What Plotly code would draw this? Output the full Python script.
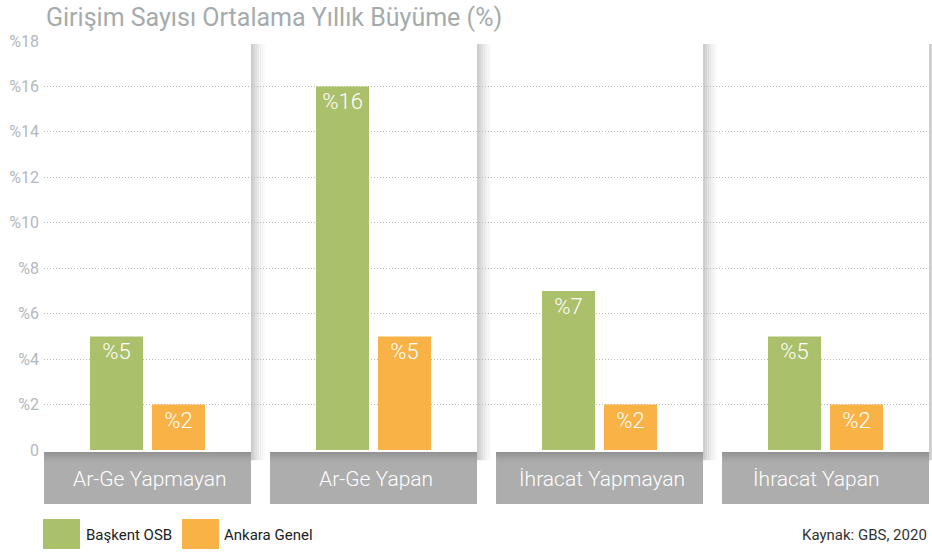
import plotly.graph_objects as go

categories = ["Ar-Ge Yapmayan", "Ar-Ge Yapan", "İhracat Yapmayan", "İhracat Yapan"]
baskent_osb = [5, 16, 7, 5]
ankara_genel = [2, 5, 2, 2]
series_names = ["Başkent OSB", "Ankara Genel"]
series_colors = ["#abc06a", "#f8b246"]
y_ticks = [0, 2, 4, 6, 8, 10, 12, 14, 16, 18]
y_tick_labels = ["0", "%2", "%4", "%6", "%8", "%10", "%12", "%14", "%16", "%18"]
title_text = "Girişim Sayısı Ortalama Yıllık Büyüme (%)"
source_text = "Kaynak: GBS, 2020"

FONT = "Roboto"
xpos = list(range(len(categories)))

fig = go.Figure()
for name, vals, col in zip(series_names, [baskent_osb, ankara_genel], series_colors):
    fig.add_trace(go.Bar(
        x=xpos, y=vals, name=name, marker=dict(color=col, line=dict(width=0)),
        text=["%" + str(v) for v in vals], textposition="inside",
        insidetextanchor="end", textangle=0, constraintext="none",
        textfont=dict(family=FONT, size=22, color="white", weight=300),
        cliponaxis=False, showlegend=False, hoverinfo="skip",
    ))

PX = 1 / 226.0  # data units per pixel on x
half = 103.5 * PX
shapes = []
annotations = []

for i, cat in enumerate(categories):
    # panel shadow at right edge
    alphas = [0.20, 0.16, 0.12, 0.09, 0.06, 0.04, 0.02]
    for k, a in enumerate(alphas):
        shapes.append(dict(type="rect", xref="x", yref="paper",
                           x0=i + half + 2 * k * PX, x1=i + half + 2 * (k + 1) * PX,
                           y0=-0.025, y1=0.9927, fillcolor="rgba(0,0,0,%.3f)" % a,
                           line=dict(width=0), layer="below"))
    # gray category box
    shapes.append(dict(type="rect", xref="x", yref="paper",
                       x0=i - half, x1=i + half, y0=-0.132, y1=-0.0049,
                       fillcolor="#adadad", line=dict(width=0), layer="above"))
    for k, a in enumerate([0.14, 0.10, 0.07, 0.04, 0.02]):
        y1 = -0.0049 - k * 2 / 409.0
        shapes.append(dict(type="rect", xref="x", yref="paper",
                           x0=i - half, x1=i + half, y0=y1 - 2 / 409.0, y1=y1,
                           fillcolor="rgba(0,0,0,%.3f)" % a, line=dict(width=0), layer="above"))
    annotations.append(dict(x=i, y=-0.07, xref="x", yref="paper", text=cat,
                            showarrow=False, xanchor="center", yanchor="middle",
                            xshift=(-9 if i == 3 else 2),
                            font=dict(family=FONT, size=21, color="white", weight=300)))

# manual legend
def px_x(p):
    return (p - 44) / 888.0

def px_y(p):
    return (450 - p) / 409.0

leg_x = [(43, 80, 84), (182, 219, 222)]
for (x0, x1, tx), name, col in zip(leg_x, series_names, series_colors):
    shapes.append(dict(type="rect", xref="paper", yref="paper",
                       x0=px_x(x0), x1=px_x(x1), y0=px_y(549), y1=px_y(519),
                       fillcolor=col, line=dict(width=0)))
    annotations.append(dict(x=px_x(tx), y=px_y(535), xref="paper", yref="paper",
                            text=name, showarrow=False, xanchor="left", yanchor="middle",
                            font=dict(family=FONT, size=15, color="#222222")))

annotations.append(dict(x=px_x(929), y=px_y(535), xref="paper", yref="paper",
                        text=source_text, showarrow=False, xanchor="right", yanchor="middle",
                        font=dict(family=FONT, size=15, color="#333333")))

fig.update_layout(
    width=932, height=552, autosize=False,
    margin=dict(l=44, r=0, t=41, b=102, pad=0),
    plot_bgcolor="white", paper_bgcolor="white",
    barmode="group", bargap=0.451, bargroupgap=0.145,
    showlegend=False,
    title=dict(text=title_text, xref="container", yref="container",
               x=46 / 932.0, xanchor="left", y=1 - 17 / 552.0, yanchor="middle",
               font=dict(family=FONT, size=25, color="#a5abad")),
    xaxis=dict(range=[-0.458, 3.471], showticklabels=False, showgrid=False,
               zeroline=False, showline=False, ticks=""),
    yaxis=dict(range=[0, 18], tickvals=y_ticks, ticktext=y_tick_labels,
               showgrid=True, gridcolor="#b8b8b8", griddash="1px,2px", gridwidth=1,
               zeroline=False, showline=False, ticks="", ticklabelstandoff=4,
               tickfont=dict(family=FONT, size=16, color="#b3b8bd")),
    shapes=shapes, annotations=annotations,
)

fig.write_html("out.html", config={"displayModeBar": False},
               post_script="document.body.style.margin='0';document.body.style.padding='0';")
